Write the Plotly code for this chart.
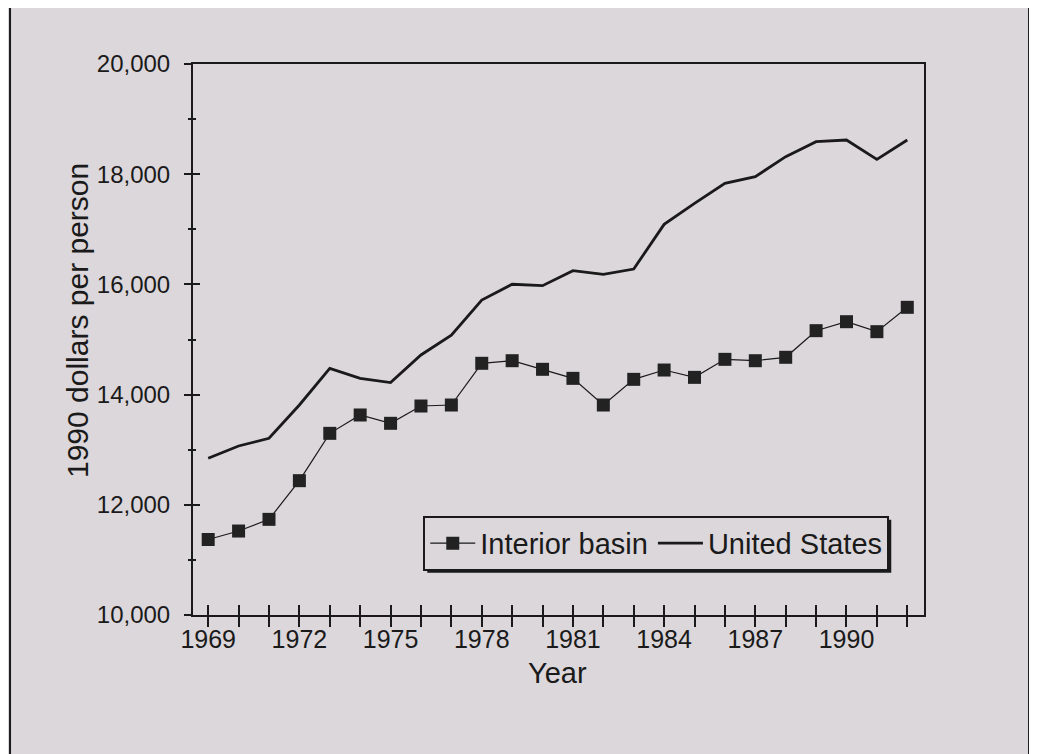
import plotly.graph_objects as go

years = list(range(1969, 1993))
interior_basin = [11370, 11524, 11736, 12438, 13297, 13630, 13479, 13793, 13811,
                  14568, 14615, 14459, 14295, 13811, 14277, 14446, 14313, 14640,
                  14615, 14677, 15160, 15323, 15142, 15584]
united_states = [12845, 13067, 13207, 13811, 14477, 14296, 14217, 14719, 15080,
                 15715, 16002, 15977, 16249, 16183, 16279, 17090, 17471, 17834,
                 17955, 18318, 18590, 18620, 18270, 18620]

BG = "#dcd7db"
INK = "#1a1a1a"
REG = "Liberation Sans, Arial"

W, H = 1029, 746
ML, MT, PW, PH = 185, 56, 731, 551

fig = go.Figure()
fig.add_trace(go.Scatter(
    x=years, y=interior_basin, name="Interior basin", mode="lines+markers",
    line=dict(color=INK, width=1.2),
    marker=dict(symbol="square", size=13, color="#222222"),
))
fig.add_trace(go.Scatter(
    x=years, y=united_states, name="United States", mode="lines",
    line=dict(color=INK, width=2.8),
))

xr = [1968.5, 1992.55]
yr = [10000, 20000]

# legend placement (paper coords) and its drop shadow
LX, LY = 0.315, 0.18
LW, LH = 464 / PW, 53 / PH
sx, sy = 4 / PW, 4 / PH

fig.update_layout(
    width=W, height=H,
    paper_bgcolor=BG, plot_bgcolor=BG,
    margin=dict(l=ML, r=W - ML - PW, t=MT, b=H - MT - PH),
    showlegend=True,
    legend=dict(
        orientation="h", x=LX, y=LY, xanchor="left", yanchor="top",
        bgcolor=BG, bordercolor=INK, borderwidth=2,
        font=dict(family=REG, size=29, color=INK),
        itemwidth=45,
    ),
    xaxis=dict(
        range=xr, showgrid=False, zeroline=False,
        showline=True, linecolor=INK, linewidth=2, mirror=True,
        ticks="outside", ticklen=10, tickwidth=1.5, tickcolor=INK,
        tick0=1969, dtick=3,
        minor=dict(dtick=1, tick0=1969, ticks="outside", ticklen=10, tickwidth=1.5, tickcolor=INK),
        tickfont=dict(family=REG, size=25, color=INK),
        ticklabelstandoff=-9,
    ),
    yaxis=dict(
        range=yr, showgrid=False, zeroline=False,
        showline=True, linecolor=INK, linewidth=2, mirror=True,
        ticks="outside", ticklen=7, tickwidth=1.5, tickcolor=INK,
        tick0=10000, dtick=2000, tickformat=",",
        minor=dict(dtick=1000, ticks="outside", ticklen=3, tickwidth=1.5, tickcolor=INK),
        tickfont=dict(family=REG, size=24, color=INK),
        ticklabelstandoff=9,
    ),
    xaxis2=dict(
        range=xr, overlaying="x", showgrid=False, zeroline=False, showline=False,
        showticklabels=False, ticks="inside", ticklen=10, tickwidth=1.5, tickcolor=INK,
        tick0=1969, dtick=1, side="bottom",
    ),
    yaxis2=dict(
        range=yr, overlaying="y", showgrid=False, zeroline=False, showline=False,
        showticklabels=False, ticks="inside", ticklen=7, tickwidth=1.5, tickcolor=INK,
        tick0=10000, dtick=2000, side="left",
        minor=dict(dtick=1000, ticks="inside", ticklen=3, tickwidth=1.5, tickcolor=INK),
    ),
    annotations=[
        dict(text="1990 dollars per person", xref="paper", yref="paper",
             x=-0.1573, y=0.5336, xanchor="center", yanchor="middle", textangle=-90,
             showarrow=False, font=dict(family=REG, size=30, color=INK)),
        dict(text="Year", xref="paper", yref="paper",
             x=0.4993, y=-0.1053, xanchor="center", yanchor="middle",
             showarrow=False, font=dict(family=REG, size=29, color=INK)),
    ],
    shapes=[
        dict(type="rect", xref="paper", yref="paper",
             x0=-0.2503, x1=1.1437, y0=-0.35, y1=1.1034,
             line=dict(color=INK, width=2), fillcolor="rgba(0,0,0,0)", layer="below"),
        dict(type="rect", xref="paper", yref="paper",
             x0=LX + sx, x1=LX + LW + sx, y0=LY - LH - sy, y1=LY - sy,
             line=dict(width=0), fillcolor=INK, layer="above"),
    ],
)
# invisible carrier trace so the overlay axes (inside ticks) are rendered
fig.add_trace(go.Scatter(x=[years[0]], y=[interior_basin[0]], xaxis="x2", yaxis="y2",
                         mode="markers", marker=dict(opacity=0), showlegend=False,
                         hoverinfo="skip"))

fig.write_html("out.html")
